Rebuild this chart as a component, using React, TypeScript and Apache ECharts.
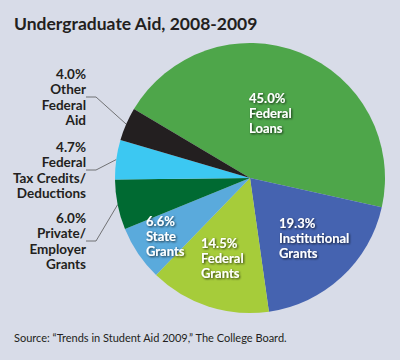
import React, { useEffect, useRef } from "react";
import * as echarts from "echarts";

const categories = [
  "Federal Loans",
  "Institutional Grants",
  "Federal Grants",
  "State Grants",
  "Private/ Employer Grants",
  "Federal Tax Credits/ Deductions",
  "Other Federal Aid",
];
const values = [45.0, 19.3, 14.5, 6.6, 6.0, 4.7, 4.0];
const labelTexts = [
  "45.0%\nFederal\nLoans",
  "19.3%\nInstitutional\nGrants",
  "14.5%\nFederal\nGrants",
  "6.6%\nState\nGrants",
  "6.0%\nPrivate/\nEmployer\nGrants",
  "4.7%\nFederal\nTax Credits/\nDeductions",
  "4.0%\nOther\nFederal\nAid",
];
const colors = ["#4ea64a", "#4563b0", "#a6cc3a", "#5aaadc", "#006a32", "#3cc8f2", "#231f20"];
const insideFlags = [true, true, true, true, false, false, false];

// label anchor positions (layout only)
const labelPos: Record<number, { x: number; y: number; align: string }> = {
  0: { x: 249, y: 90, align: "left" },
  1: { x: 279, y: 215, align: "left" },
  2: { x: 201, y: 235, align: "left" },
  3: { x: 146, y: 213, align: "left" },
  4: { x: 86, y: 210, align: "right" },
  5: { x: 86, y: 139, align: "right" },
  6: { x: 86, y: 66, align: "right" },
};

export default function App() {
  const ref = useRef<HTMLDivElement>(null);
  useEffect(() => {
    if (!ref.current) return;
    document.body.style.margin = "0";
    const chart = echarts.init(ref.current, null, { renderer: "svg" });
    const data = categories.map((name, i) => ({
      name,
      value: values[i],
      itemStyle: { color: colors[i] },
      label: insideFlags[i]
        ? {
            position: "inside",
            formatter: labelTexts[i],
            color: "#ffffff",
            fontFamily: "Lato",
            fontWeight: "bold",
            fontSize: 13,
            lineHeight: 15,
            align: "left",
            textShadowColor: "rgba(0,0,0,0.75)",
            textShadowBlur: 2,
            textShadowOffsetX: 1,
            textShadowOffsetY: 1,
          }
        : {
            position: "outside",
            formatter: labelTexts[i],
            color: "#231f20",
            fontFamily: "Lato",
            fontWeight: "bold",
            fontSize: 13.5,
            lineHeight: 15.5,
            align: "right",
          },
      labelLine: insideFlags[i]
        ? { show: false }
        : { show: true, lineStyle: { color: "#555555", width: 0.8 }, length: 10, length2: 10 },
    }));
    chart.setOption({
      animation: false,
      backgroundColor: "#d8dce8",
      title: [
        {
          text: "Undergraduate Aid, 2008-2009",
          left: 9,
          top: 9,
          textStyle: { fontFamily: "Lato", fontWeight: "bold", fontSize: 17.5, color: "#231f20" },
        },
        {
          text: "Source: \u201cTrends in Student Aid 2009,\u201d The College Board.",
          left: 9,
          top: 327,
          textStyle: { fontFamily: "Lato", fontWeight: "normal", fontSize: 11, color: "#231f20" },
        },
      ],
      series: [
        {
          type: "pie",
          center: [250, 178],
          radius: [0, 135],
          startAngle: 149.3,
          clockwise: true,
          data,
          emphasis: { disabled: true },
          labelLayout: (params: any) => {
            const p = labelPos[params.dataIndex];
            return { x: p.x, y: p.y, align: p.align, verticalAlign: "top" };
          },
        },
      ],
    });
    return () => chart.dispose();
  }, []);
  return <div ref={ref} style={{ width: 400, height: 360 }} />;
}
